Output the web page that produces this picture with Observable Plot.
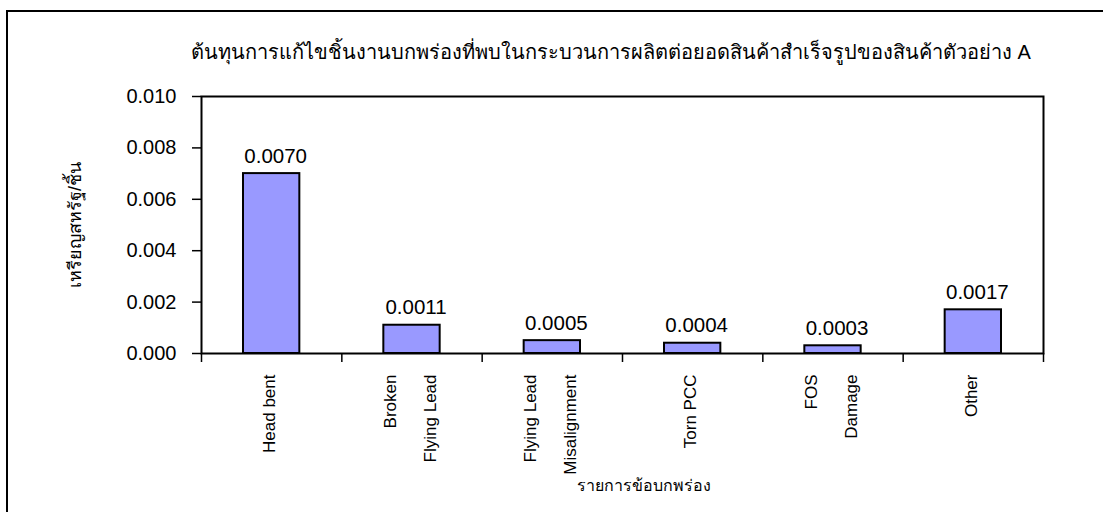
<!DOCTYPE html>
<html>
<head>
<meta charset="utf-8">
<script src="https://cdn.jsdelivr.net/npm/d3@7"></script>
<script src="https://cdn.jsdelivr.net/npm/@observablehq/plot@0.6"></script>
<style>
  html, body { margin: 0; padding: 0; background: #fff; }
  #wrap { position: relative; width: 1103px; height: 512px; overflow: hidden; font-family: "Liberation Sans", Arial, sans-serif; }
  #border { position: absolute; left: 6px; top: 10px; width: 1200px; height: 600px; border-left: 2px solid #000; border-top: 2px solid #000; }
  #title { position: absolute; top: 40px; left: 0; width: 1222px; text-align: center; font-size: 20px; font-weight: normal; color: #000; line-height: 24px; }
  #chart { position: absolute; left: 0; top: 76px; }
</style>
</head>
<body>
<div id="wrap">
  <div id="border"></div>
  <div id="title"></div>
  <div id="chart"></div>
</div>
<script>
const titleText = "ต้นทุนการแก้ไขชิ้นงานบกพร่องที่พบในกระบวนการผลิตต่อยอดสินค้าสำเร็จรูปของสินค้าตัวอย่าง A";
const yTitle = "เหรียญสหรัฐ/ชิ้น";
const xTitle = "รายการข้อบกพร่อง";
const categories = ["Head bent", "Broken\nFlying Lead", "Flying Lead\nMisalignment", "Torn PCC", "FOS\nDamage", "Other"];
const values = [0.0070, 0.0011, 0.0005, 0.0004, 0.0003, 0.0017];
const valueLabels = ["0.0070", "0.0011", "0.0005", "0.0004", "0.0003", "0.0017"];
const yTicks = [0, 0.002, 0.004, 0.006, 0.008, 0.010];

document.getElementById("title").textContent = titleText;

const data = categories.map((c, i) => ({i, cat: c, value: values[i], label: valueLabels[i]}));
const boundaries = d3.range(categories.length + 1);

const chart = Plot.plot({
  width: 1103,
  height: 436,
  marginTop: 20,
  marginBottom: 159,
  marginLeft: 201,
  marginRight: 60,
  style: {fontFamily: "'Liberation Sans', Arial, sans-serif", color: "#000", background: "transparent"},
  x: {domain: [0, categories.length]},
  y: {domain: [0, 0.010]},
  marks: [
    Plot.rectY(data, {x1: "i", x2: d => d.i + 1, y: "value", fill: "#9999ff", stroke: "#000", strokeWidth: 2, insetLeft: 42, insetRight: 42}),
    Plot.frame({stroke: "#000", strokeWidth: 2}),
    Plot.axisY({ticks: yTicks, tickFormat: d3.format(".3f"), tickSize: 9, tickPadding: 16, fontSize: 20, label: null, stroke: "#000", strokeWidth: 1.5}),
    Plot.axisX({ticks: boundaries, tickFormat: () => "", tickSize: 9, label: null, stroke: "#000", strokeWidth: 1.5}),
    Plot.text(data, {x: d => d.i + 0.5, y: "value", text: "label", dx: 4, dy: -11, lineAnchor: "bottom", fontSize: 20.5, fill: "#000"}),
    Plot.text(data, {x: d => d.i + 0.5, text: "cat", frameAnchor: "bottom", dx: -9, dy: 21, rotate: -90, textAnchor: "end", lineAnchor: "middle", lineHeight: 2.35, fontSize: 17, fill: "#000"}),
    Plot.text([yTitle], {frameAnchor: "left", dx: -126, rotate: -90, textAnchor: "middle", lineAnchor: "middle", fontSize: 18, fill: "#000"}),
    Plot.text([xTitle], {frameAnchor: "bottom", dx: 21, dy: 132, textAnchor: "middle", lineAnchor: "middle", fontSize: 16, fill: "#000"})
  ]
});
document.getElementById("chart").appendChild(chart);
</script>
</body>
</html>
